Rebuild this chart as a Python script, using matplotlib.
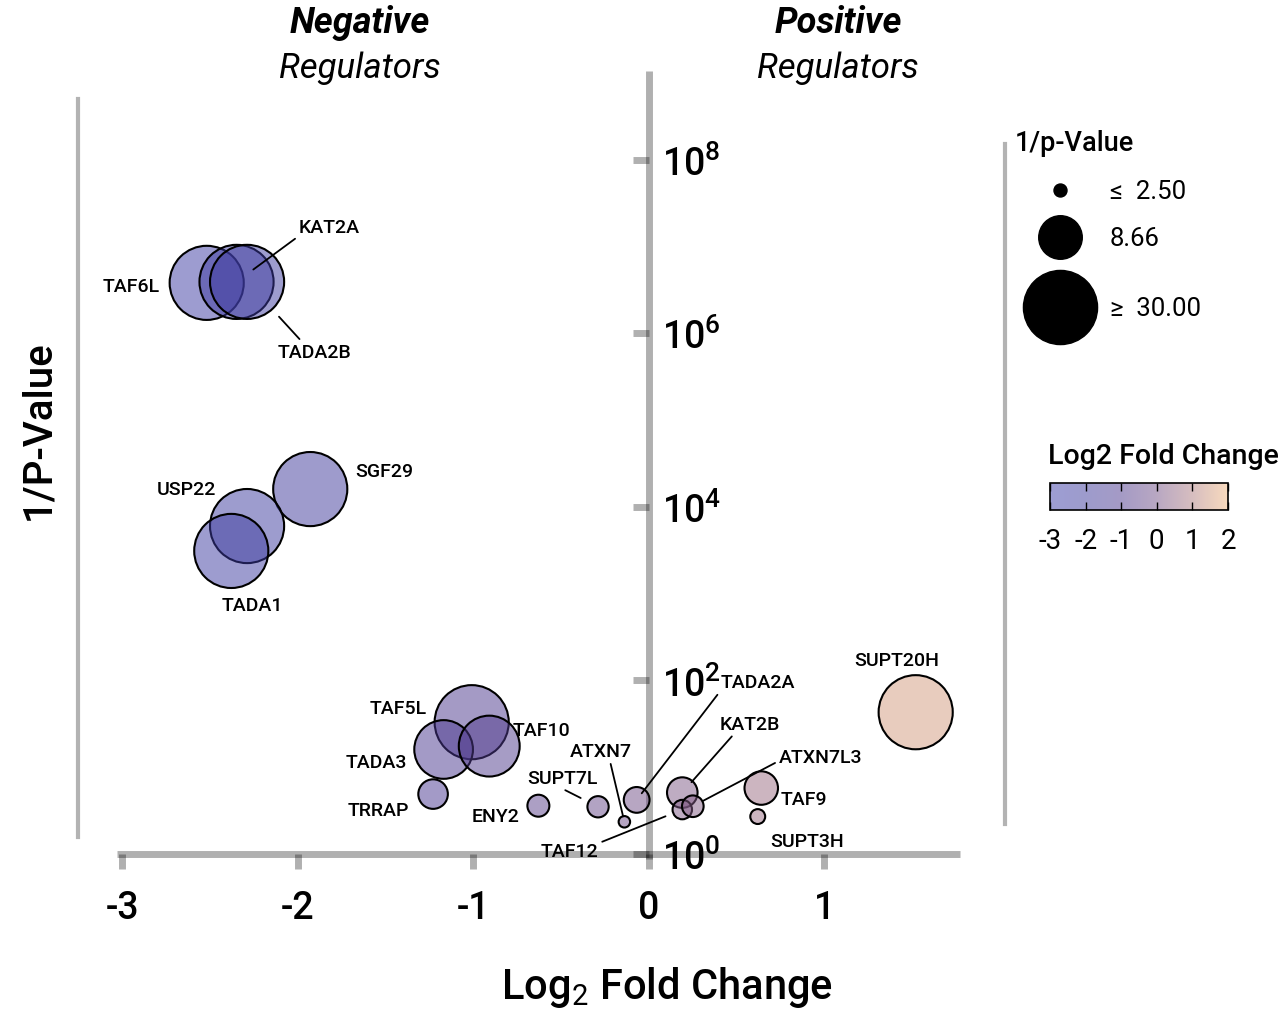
import numpy as np
import matplotlib
matplotlib.use("Agg")
import matplotlib.pyplot as plt
from matplotlib.colors import LinearSegmentedColormap, Normalize
from matplotlib.lines import Line2D
import matplotlib.ticker as mticker

plt.rcParams['font.family'] = ['Roboto', 'DejaVu Sans']
plt.rcParams['mathtext.fontset'] = 'custom'
plt.rcParams['mathtext.rm'] = 'Roboto'
plt.rcParams['axes.unicode_minus'] = False

# data
genes = ['TAF6L', 'KAT2A', 'TADA2B', 'SGF29', 'USP22', 'TADA1',
         'TAF5L', 'TADA3', 'TAF10', 'TRRAP', 'ENY2', 'SUPT7L', 'ATXN7',
         'TADA2A', 'KAT2B', 'TAF12', 'ATXN7L3', 'TAF9', 'SUPT3H', 'SUPT20H']
log2fc = [-2.52, -2.35, -2.29, -1.93, -2.29, -2.38,
          -1.01, -1.17, -0.91, -1.23, -0.63, -0.29, -0.14,
          -0.07, 0.19, 0.19, 0.25, 0.64, 0.62, 1.52]
inv_p = [3.8e6, 3.9e6, 3.9e6, 16000, 6000, 3100,
         33, 16, 17.5, 4.9, 3.6, 3.5, 2.35,
         4.2, 5.1, 3.25, 3.55, 5.75, 2.7, 43]

xticks = [-3, -2, -1, 0, 1]
yticks = [1, 1e2, 1e4, 1e6, 1e8]
ytick_labels = [r'$\mathregular{10^{0}}$', r'$\mathregular{10^{2}}$', r'$\mathregular{10^{4}}$',
                r'$\mathregular{10^{6}}$', r'$\mathregular{10^{8}}$']
size_legend_vals = [2.5, 8.66, 30]
size_legend_text = ['\u2264  2.50', '8.66', '\u2265  30.00']
cbar_ticks = [-3, -2, -1, 0, 1, 2]

# label placement: offset in pixels from bubble, leader line (relpos, shrinkB pt)
label_pos = {
    'TAF6L': (-76, -3, None), 'KAT2A': (93, 55, ((0, 0), 15)),
    'TADA2B': (67, -70, ((0.35, 1), 34)), 'SGF29': (74, 18, None),
    'USP22': (-61, 37, None), 'TADA1': (21, -54, None),
    'TAF5L': (-74, 14, None), 'TADA3': (-67, -13, None),
    'TAF10': (52, 16, None), 'TRRAP': (-55, -16, None),
    'ENY2': (-43, -10, None), 'SUPT7L': (-36, 29, ((0.45, 0), 14)),
    'ATXN7': (-24, 71, ((0.65, 0), 4)), 'TADA2A': (121, 118, ((0, 0), 6)),
    'KAT2B': (68, 69, ((0.25, 0), 10)), 'TAF12': (-113, -41, ((1, 0.9), 13)),
    'ATXN7L3': (128, 49, ((0, 0.3), 8)), 'TAF9': (43, -11, None),
    'SUPT3H': (49, -24, None), 'SUPT20H': (-19, 52, None),
}


def bubble_size(v):
    v = np.minimum(np.asarray(v, dtype=float), 30)
    r = np.maximum(6.5 + 12.3 * np.log(v / 2.5), 3)   # radius in px
    return (2 * r * 0.72) ** 2


W, H = 1284, 1012


def fig_box(x0, y0, x1, y1):
    return [x0 / W, (H - y1) / H, (x1 - x0) / W, (y1 - y0) / H]


disp = [(158, 158, 212), (158, 156, 205), (165, 155, 198),
        (185, 168, 195), (215, 190, 192), (248, 218, 190)]
cols = [tuple(max(2 * c - 255, 0) / 255 for c in d) + (0.5,) for d in disp]
cmap = LinearSegmentedColormap.from_list('fc', list(zip(np.linspace(0, 1, 6), cols)))
norm = Normalize(-3, 2)

fig = plt.figure(figsize=(W / 100, H / 100), dpi=100)
ax = fig.add_axes(fig_box(80, 50, 975, 880))

sc = ax.scatter(log2fc, inv_p, s=bubble_size(inv_p), c=log2fc, cmap=cmap, norm=norm,
                edgecolors='black', linewidths=1.5, zorder=3)

for g, x, y in zip(genes, log2fc, inv_p):
    dx, dy, lead = label_pos[g]
    ap = None
    if lead is not None:
        ap = dict(arrowstyle='-', color='black', lw=1.3, relpos=lead[0],
                  shrinkA=1, shrinkB=lead[1])
    ax.annotate(g, (x, y), xytext=(dx, dy), textcoords='offset pixels',
                ha='center', va='center', fontsize=14, fontweight='medium',
                arrowprops=ap, zorder=4)

ax.set_yscale('log')
ax.set_xlim(-3.242, 1.858)
ax.set_ylim(10 ** -0.288, 10 ** 9.274)

grey = (0, 0, 0, 0.31)
ax.spines['top'].set_visible(False)
ax.spines['right'].set_visible(False)
ax.spines['left'].set_position(('data', 0))
ax.spines['bottom'].set_position(('data', 1))
ax.spines['left'].set_bounds(10 ** -0.06, 10 ** 9.02)
ax.spines['bottom'].set_bounds(-3.03, 1.77)
for s in ['left', 'bottom']:
    ax.spines[s].set_color(grey)
    ax.spines[s].set_linewidth(5)
    ax.spines[s].set_capstyle('butt')

ax.set_xticks(xticks)
ax.xaxis.set_major_formatter(mticker.FixedFormatter([str(t) for t in xticks]))
ax.set_yticks(yticks)
ax.yaxis.set_major_formatter(mticker.FixedFormatter(ytick_labels))
ax.yaxis.set_minor_locator(mticker.NullLocator())
ax.tick_params(axis='x', direction='out', length=11, width=5, color=grey,
               labelsize=27, pad=14)
ax.tick_params(axis='y', direction='out', length=11.5, width=5, color=grey,
               labelsize=27, pad=-21)
for lbl in ax.get_yticklabels():
    lbl.set_horizontalalignment('left')
for lbl in ax.get_xticklabels() + ax.get_yticklabels():
    lbl.set_fontweight('medium')
ax.patch.set_alpha(0)

# axis titles and headers
fig.text(667 / W, 1 - 988 / H, r'Log$_{2}$ Fold Change', ha='center', va='center',
         fontsize=30, fontweight='medium')
fig.text(38 / W, 1 - 430 / H, '1/P-Value', ha='center', va='center', rotation=90,
         fontsize=29, fontweight='medium')
for cx, word in [(360, 'Negative'), (838, 'Positive')]:
    fig.text(cx / W, 1 - 23 / H, word, ha='center', va='center', fontsize=26,
             fontweight='bold', style='italic')
    fig.text(cx / W, 1 - 68 / H, 'Regulators', ha='center', va='center', fontsize=25,
             style='italic')

# grey frame lines
fig.add_artist(Line2D([78 / W, 78 / W], [1 - 100 / H, 1 - 838 / H], color='#b3b3b3', lw=3))
fig.add_artist(Line2D([1005 / W, 1005 / W], [1 - 145 / H, 1 - 825 / H], color='#b3b3b3', lw=3))

# size legend
lax = fig.add_axes(fig_box(1000, 120, 1284, 560))
lax.set_xlim(1000, 1284)
lax.set_ylim(560, 120)
lax.axis('off')
lax.text(1015, 143, '1/p-Value', ha='left', va='center', fontsize=19.5, fontweight='medium')
for yy, v, t in zip([191, 238, 308], size_legend_vals, size_legend_text):
    lax.scatter([1060], [yy], s=bubble_size([v]), color='black')
    lax.text(1110, yy + 1, t, ha='left', va='center', fontsize=18.5)
lax.text(1048, 456, 'Log2 Fold Change', ha='left', va='center', fontsize=20.5,
         fontweight='medium')

# colour bar
cax = fig.add_axes(fig_box(1050, 484, 1228, 511))
cb = fig.colorbar(sc, cax=cax, orientation='horizontal')
cb.set_ticks(cbar_ticks)
cb.set_ticklabels([str(t) for t in cbar_ticks])
cb.outline.set_linewidth(1.2)
cax.tick_params(direction='in', length=5.5, width=1, top=True, bottom=True,
                labelsize=20, pad=12)

fig.savefig('out.png', dpi=100)
